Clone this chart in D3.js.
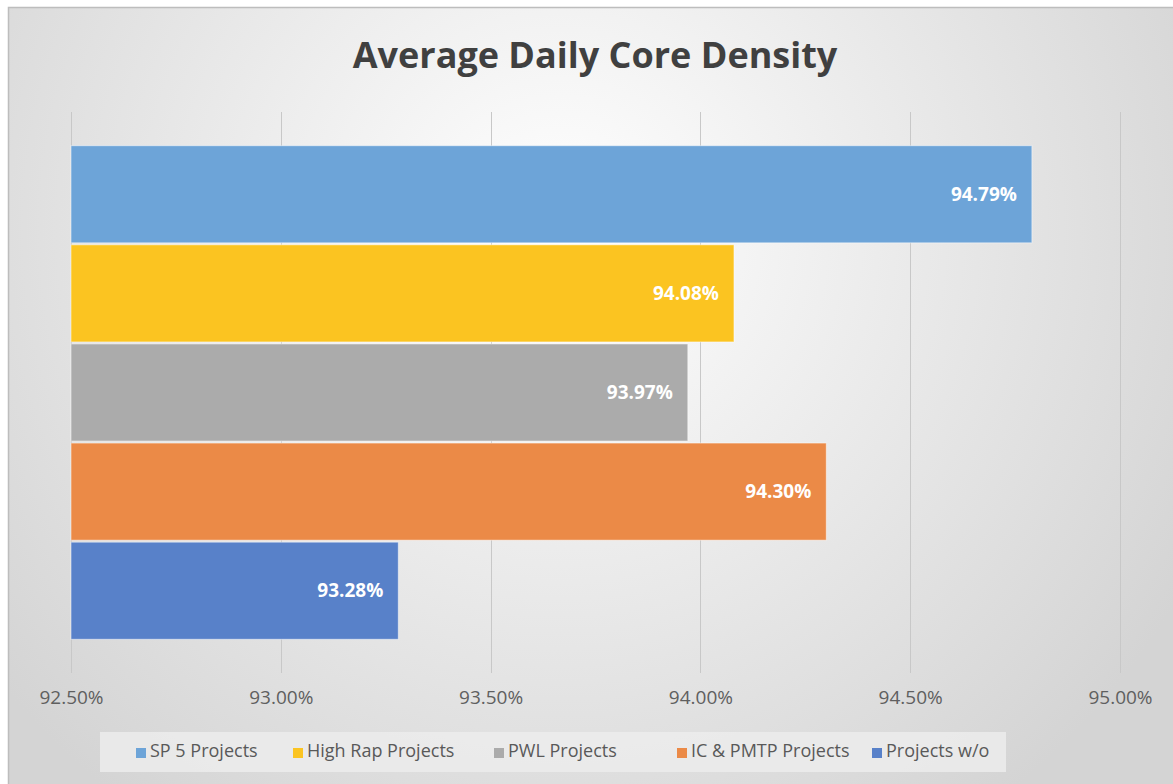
<!DOCTYPE html>
<html lang="en">
<head>
<meta charset="UTF-8">
<title>Average Daily Core Density</title>
<style>
  body { margin: 0; background: #fff; }
  text { font-family: "Open Sans", "Noto Sans", sans-serif; }
</style>
</head>
<body>
<script src="https://d3js.org/d3.v7.min.js"></script>
<div id="chart"></div>
<script>
// data
var series = ["SP 5 Projects", "High Rap Projects", "PWL Projects", "IC & PMTP Projects", "Projects w/o"];
var values = [94.79, 94.08, 93.97, 94.30, 93.28];
var colors = ["#6DA4D8", "#FBC421", "#ABABAB", "#EB8A47", "#5881C9"];
var ticks = [92.5, 93.0, 93.5, 94.0, 94.5, 95.0];

var W = 1173, H = 784;
var svg = d3.select("#chart").append("svg")
    .attr("width", W)
    .attr("height", H);

// background gradient like the excel chart area
var defs = svg.append("defs");
var grad = defs.append("radialGradient")
    .attr("id", "bg")
    .attr("gradientUnits", "userSpaceOnUse")
    .attr("cx", 560).attr("cy", 230).attr("r", 720);
grad.append("stop").attr("offset", "0%").attr("stop-color", "#ffffff");
grad.append("stop").attr("offset", "100%").attr("stop-color", "#d4d4d4");

svg.append("rect")
    .attr("x", 8.5).attr("y", 7.5)
    .attr("width", W).attr("height", H)
    .attr("fill", "url(#bg)")
    .attr("stroke", "#bdbdbd")
    .attr("stroke-width", 1.5);

var x = d3.scaleLinear().domain([92.5, 95.0]).range([71, 1120]);
var y = d3.scaleBand().domain(series).range([112, 673])
    .paddingInner(0.02).paddingOuter(0.34);

// title
svg.append("text")
    .attr("x", 595)
    .attr("y", 68)
    .attr("text-anchor", "middle")
    .style("font-size", "36px")
    .style("font-weight", "bold")
    .style("fill", "#404040")
    .text("Average Daily Core Density");

// gridlines
svg.append("g")
    .selectAll("line")
    .data(ticks)
    .enter()
    .append("line")
    .attr("x1", function(d) { return Math.round(x(d)) + 0.5; })
    .attr("x2", function(d) { return Math.round(x(d)) + 0.5; })
    .attr("y1", 112)
    .attr("y2", 673)
    .attr("stroke", "#c8c8c8")
    .attr("stroke-width", 1);

// bars
svg.append("g")
    .selectAll("rect")
    .data(series)
    .enter()
    .append("rect")
    .attr("x", x(92.5))
    .attr("y", function(d) { return y(d); })
    .attr("width", function(d, i) { return x(values[i]) - x(92.5); })
    .attr("height", y.bandwidth())
    .attr("fill", function(d, i) { return colors[i]; })
    .attr("stroke", "#ffffff")
    .attr("stroke-opacity", 0.5)
    .attr("stroke-width", 1);

// value labels
svg.append("g")
    .selectAll("text")
    .data(series)
    .enter()
    .append("text")
    .attr("x", function(d, i) { return x(values[i]) - 15; })
    .attr("y", function(d) { return y(d) + y.bandwidth() / 2; })
    .attr("dy", "0.35em")
    .attr("text-anchor", "end")
    .style("font-size", "19px")
    .style("font-weight", "bold")
    .style("fill", "#ffffff")
    .text(function(d, i) { return values[i].toFixed(2) + "%"; });

// x axis tick labels
var xAxis = svg.append("g")
    .attr("transform", "translate(0,673)")
    .call(d3.axisBottom(x).tickValues(ticks).tickSize(0).tickPadding(18)
        .tickFormat(function(d) { return d.toFixed(2) + "%"; }));
xAxis.select(".domain").remove();
xAxis.selectAll("text")
    .style("font-family", "'Open Sans', 'Noto Sans', sans-serif")
    .style("font-size", "19px")
    .style("fill", "#5f5f5f");

// legend
svg.append("rect")
    .attr("x", 100).attr("y", 732)
    .attr("width", 906).attr("height", 40)
    .attr("fill", "#ececec")
    .attr("opacity", 0.85);

var legX = [136, 293, 494, 677, 872];
var leg = svg.append("g")
    .selectAll("g")
    .data(series)
    .enter()
    .append("g")
    .attr("transform", function(d, i) { return "translate(" + legX[i] + ",751)"; });
leg.append("rect")
    .attr("x", 0).attr("y", -3)
    .attr("width", 10).attr("height", 10)
    .attr("fill", function(d, i) { return colors[i]; });
leg.append("text")
    .attr("x", 14)
    .attr("y", 0)
    .attr("dy", "0.32em")
    .style("font-size", "18px")
    .style("fill", "#595959")
    .text(function(d) { return d; });
</script>
</body>
</html>
